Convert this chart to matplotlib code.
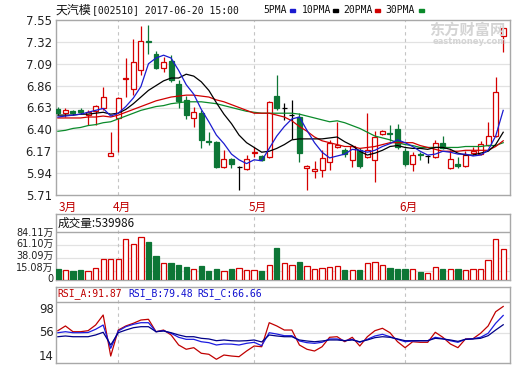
import matplotlib
matplotlib.use('Agg')
import matplotlib.pyplot as plt
import numpy as np
from matplotlib.transforms import offset_copy

plt.rcParams['font.family'] = ['DejaVu Sans', 'Noto Sans CJK SC']

# ---------------- data ----------------
opens = [6.61, 6.57, 6.59, 6.60, 6.55, 6.59, 6.62, 6.12, 6.52, 6.93,
         6.82, 7.02, 7.33, 7.19, 7.05, 7.12, 6.88, 6.71, 6.52, 6.57,
         6.28, 6.27, 6.00, 6.09, 6.00, 5.98, 6.15, 6.12, 6.11, 6.75,
         6.62, 6.55, 6.53, 5.99, 5.96, 5.97, 6.06, 6.21, 6.18, 6.08,
         6.18, 6.11, 6.08, 6.35, 6.36, 6.40, 6.17, 6.04, 6.14, 6.12,
         6.11, 6.26, 5.99, 6.04, 6.01, 6.15, 6.14, 6.24, 6.33, 7.38]
closes = [6.57, 6.60, 6.57, 6.58, 6.58, 6.65, 6.74, 6.15, 6.73, 6.94,
          7.11, 7.33, 7.32, 7.05, 7.11, 6.92, 6.70, 6.55, 6.58, 6.29,
          6.27, 6.00, 6.09, 6.04, 6.00, 6.09, 6.16, 6.08, 6.69, 6.62,
          6.62, 6.55, 6.15, 6.01, 5.98, 6.10, 6.26, 6.24, 6.14, 6.22,
          6.02, 6.18, 6.32, 6.38, 6.35, 6.21, 6.04, 6.13, 6.13, 6.12,
          6.26, 6.20, 6.09, 6.01, 6.13, 6.17, 6.25, 6.33, 6.79, 7.47]
highs = [6.64, 6.62, 6.60, 6.63, 6.60, 6.66, 6.85, 6.37, 6.74, 7.15,
         7.35, 7.49, 7.50, 7.22, 7.16, 7.18, 6.92, 6.75, 6.64, 6.60,
         6.37, 6.28, 6.18, 6.10, 6.02, 6.13, 6.21, 6.13, 6.70, 6.97,
         6.68, 6.71, 6.57, 6.03, 6.07, 6.18, 6.29, 6.48, 6.20, 6.24,
         6.20, 6.57, 6.38, 6.39, 6.45, 6.46, 6.20, 6.16, 6.16, 6.13,
         6.29, 6.33, 6.18, 6.11, 6.17, 6.21, 6.28, 6.48, 6.95, 7.47]
lows = [6.55, 6.53, 6.55, 6.56, 6.45, 6.45, 6.60, 6.12, 6.16, 6.74,
        6.76, 6.97, 7.19, 7.03, 7.00, 6.90, 6.63, 6.51, 6.43, 6.20,
        6.24, 5.99, 5.99, 5.99, 5.76, 5.97, 6.11, 6.07, 6.10, 6.60,
        6.50, 6.30, 6.06, 5.76, 5.89, 5.90, 5.97, 6.20, 6.11, 6.00,
        5.99, 6.10, 5.85, 6.34, 6.28, 6.19, 6.01, 5.96, 6.08, 6.05,
        6.10, 6.19, 5.98, 5.99, 6.00, 6.13, 6.13, 6.22, 6.32, 7.21]

ma5 = [6.53, 6.54, 6.55, 6.56, 6.58, 6.60, 6.62, 6.54, 6.57, 6.64,
       6.73, 6.85, 7.09, 7.15, 7.18, 7.15, 7.02, 6.87, 6.77, 6.61,
       6.48, 6.34, 6.25, 6.14, 6.08, 6.04, 6.08, 6.07, 6.20, 6.33,
       6.43, 6.51, 6.53, 6.39, 6.26, 6.16, 6.10, 6.12, 6.14, 6.19,
       6.18, 6.16, 6.18, 6.22, 6.25, 6.29, 6.26, 6.22, 6.17, 6.13,
       6.14, 6.17, 6.16, 6.14, 6.14, 6.12, 6.13, 6.18, 6.33, 6.60]
ma10 = [6.55, 6.55, 6.55, 6.56, 6.56, 6.57, 6.58, 6.56, 6.57, 6.61,
        6.67, 6.74, 6.81, 6.86, 6.91, 6.94, 6.94, 6.98, 6.96, 6.90,
        6.81, 6.68, 6.56, 6.46, 6.34, 6.26, 6.21, 6.16, 6.17, 6.20,
        6.24, 6.29, 6.30, 6.30, 6.30, 6.30, 6.31, 6.32, 6.27, 6.23,
        6.17, 6.13, 6.15, 6.18, 6.22, 6.23, 6.21, 6.20, 6.20, 6.19,
        6.21, 6.21, 6.19, 6.15, 6.13, 6.13, 6.15, 6.17, 6.24, 6.37]
ma20 = [6.52, 6.52, 6.52, 6.52, 6.53, 6.53, 6.54, 6.53, 6.55, 6.58,
        6.61, 6.64, 6.67, 6.70, 6.72, 6.74, 6.75, 6.76, 6.76, 6.75,
        6.74, 6.71, 6.69, 6.66, 6.63, 6.60, 6.57, 6.57, 6.57, 6.55,
        6.53, 6.49, 6.43, 6.38, 6.32, 6.28, 6.26, 6.24, 6.22, 6.22,
        6.20, 6.21, 6.22, 6.24, 6.26, 6.26, 6.26, 6.26, 6.23, 6.21,
        6.19, 6.17, 6.17, 6.17, 6.18, 6.18, 6.18, 6.18, 6.22, 6.28]
ma30 = [6.38, 6.39, 6.41, 6.42, 6.44, 6.45, 6.47, 6.48, 6.51, 6.54,
        6.57, 6.60, 6.62, 6.64, 6.65, 6.67, 6.68, 6.69, 6.69, 6.69,
        6.68, 6.67, 6.65, 6.63, 6.61, 6.59, 6.58, 6.57, 6.57, 6.57,
        6.57, 6.57, 6.56, 6.54, 6.52, 6.50, 6.48, 6.49, 6.47, 6.44,
        6.41, 6.37, 6.33, 6.31, 6.29, 6.26, 6.24, 6.23, 6.21, 6.21,
        6.21, 6.21, 6.21, 6.21, 6.22, 6.22, 6.22, 6.23, 6.23, 6.26]

volumes = [18.7, 17.5, 16.4, 17.5, 15.8, 20.4, 36.2, 36.2, 36.2, 71.3,
           63.1, 74.8, 66.0, 42.1, 30.4, 30.4, 26.3, 22.2, 19.3, 24.5,
           15.8, 18.7, 15.8, 18.7, 20.4, 16.9, 16.9, 15.8, 26.3, 56.6,
           30.4, 26.3, 32.1, 24.5, 18.7, 20.4, 23.4, 24.5, 17.5, 17.5,
           17.5, 30.4, 32.1, 26.3, 20.4, 19.3, 19.3, 18.7, 14.6, 12.8,
           22.2, 19.3, 19.3, 19.3, 17.5, 19.3, 19.3, 35.0, 71.2, 54.0]

rsi_a = [58.5, 65.0, 57.1, 57.1, 58.5, 66.3, 80.1, 23.6, 59.4, 65.0,
         68.7, 73.2, 74.2, 57.1, 59.4, 52.6, 38.8, 32.9, 35.1, 27.4,
         26.0, 19.1, 25.0, 23.6, 22.7, 30.5, 37.4, 36.4, 69.5, 65.0,
         59.4, 59.4, 38.8, 32.9, 30.5, 36.4, 49.4, 50.2, 43.3, 49.4,
         37.4, 50.2, 58.5, 61.8, 55.7, 43.3, 35.1, 43.3, 42.5, 42.5,
         56.3, 49.4, 40.2, 35.1, 47.1, 47.5, 54.9, 65.0, 84.6, 91.87]
rsi_b = [55.7, 57.1, 55.7, 55.7, 56.0, 60.4, 66.3, 34.2, 58.1, 64.0,
         67.3, 69.5, 69.5, 57.1, 58.5, 54.9, 49.4, 46.6, 46.6, 43.3,
         42.0, 38.8, 40.2, 40.0, 38.8, 41.1, 42.5, 37.8, 55.7, 53.9,
         51.6, 51.6, 44.3, 42.0, 41.1, 42.5, 47.1, 47.1, 44.7, 46.6,
         42.5, 46.6, 51.2, 53.5, 50.2, 46.6, 43.3, 44.3, 44.7, 44.7,
         49.4, 47.5, 44.7, 42.5, 46.6, 47.5, 49.4, 54.9, 68.7, 79.48]
rsi_c = [50.2, 51.2, 50.2, 50.2, 50.2, 52.6, 56.3, 38.8, 55.7, 59.4,
         62.6, 64.0, 64.0, 57.1, 58.1, 55.7, 52.6, 50.2, 50.2, 48.0,
         47.1, 44.7, 45.7, 44.7, 44.3, 44.7, 45.7, 43.0, 52.6, 51.2,
         50.2, 50.2, 45.7, 44.3, 43.3, 44.3, 45.7, 45.7, 44.7, 45.7,
         43.3, 45.7, 48.9, 50.2, 49.4, 47.1, 44.7, 44.7, 44.7, 44.7,
         48.0, 47.1, 45.7, 43.8, 46.6, 47.1, 48.0, 51.6, 59.4, 66.66]

price_ticks = [5.71, 5.94, 6.17, 6.40, 6.63, 6.86, 7.09, 7.32, 7.55]
vol_ticks = [0, 15.08, 38.09, 61.10, 84.11]
vol_labels = ['0', '15.08万', '38.09万', '61.10万', '84.11万']
rsi_ticks = [14, 56, 98]
month_idx = [0, 8, 26, 46]
month_labels = ['3月', '4月', '5月', '6月']
ma_names = ['5PMA', '10PMA', '20PMA', '30PMA']
title_name = '天汽模'
title_rest = '[002510] 2017-06-20 15:00'
vol_title = '成交量:539986'
rsi_names = ['RSI_A', 'RSI_B', 'RSI_C']

# ---------------- style ----------------
RED = '#d50000'
GREEN = '#0d7636'
MA_COLORS = ['#1b1bd0', '#000000', '#d00000', '#0a8a2a']
RSI_COLORS = ['#c00000', '#1c1ce0', '#000088']
GRID = '#e2e2e2'
FRAME = '#a8a8a8'
VLINE = '#c4c4c4'

W, H = 520, 365
fig = plt.figure(figsize=(W / 100, H / 100), dpi=100)
fig.patch.set_facecolor('white')


def rect(l, t, r, b):
    return [l / W, 1 - b / H, (r - l) / W, (b - t) / H]


def ftext(px, py, s, **kw):
    return fig.text(px / W, 1 - py / H, s, **kw)


ax = fig.add_axes(rect(56, 20, 510, 195))
axv = fig.add_axes(rect(56, 214, 510, 280))
axr = fig.add_axes(rect(56, 287, 510, 363))

x = np.arange(len(closes))
o = np.array(opens); c = np.array(closes)
hi = np.array(highs); lo = np.array(lows)
up = c > o
dn = c < o
flat = c == o
ccol = np.where(up, RED, np.where(dn, GREEN, 'black'))

for a in (ax, axv, axr):
    a.set_xlim(-0.25, 59.9)
    for s in a.spines.values():
        s.set_color(FRAME)
        s.set_linewidth(1.0)
    a.tick_params(length=0)
    a.set_xticks([])
    for mi in month_idx[1:]:
        a.axvline(mi, color=VLINE, lw=0.8, ls=(0, (3, 3)), zorder=0.5)

# ---- price panel ----
ax.set_ylim(5.71, 7.55)
ax.set_yticks(price_ticks)
ax.set_yticklabels(['%.2f' % t for t in price_ticks], fontsize=8.4, color='#222222')
ax.tick_params(axis='y', pad=3)
for t in price_ticks[1:-1]:
    ax.axhline(t, color=GRID, lw=0.9, zorder=0.4)

ax.vlines(x, lo, hi, colors=ccol, lw=0.9, zorder=2)
bw = 0.66
ax.bar(x[up], (c - o)[up], bottom=o[up], width=bw, facecolor='white',
       edgecolor=RED, lw=0.9, zorder=3)
ax.bar(x[dn], (o - c)[dn], bottom=c[dn], width=bw, facecolor=GREEN,
       edgecolor=GREEN, lw=0.9, zorder=3)
ax.hlines(c[flat], x[flat] - bw / 2, x[flat] + bw / 2, colors='black', lw=0.9, zorder=3)

for ser, col in zip([ma30, ma20, ma10, ma5], MA_COLORS[::-1]):
    ax.plot(x, ser, color=col, lw=0.9, zorder=4)

# month labels
for mi, lab, off in zip(month_idx, month_labels, [1.35, 0.45, 0.45, 0.4]):
    ax.text(mi + off, 5.71, lab, transform=offset_copy(ax.transData, fig=fig, y=-12, units='dots'),
            ha='center', va='center', fontsize=8.5, color='#c00000',
            family=['Noto Sans CJK SC', 'DejaVu Sans'])

# watermark
ftext(467, 30, '东方财富网', fontsize=11, color='#d4d4d4', ha='center', va='center',
      family=['Noto Sans CJK SC'], weight='bold')
ftext(470, 41, 'eastmoney.com', fontsize=6, color='#d4d4d4', ha='center', va='center', weight='bold')

# header
ftext(56, 10, title_name, fontsize=8.6, va='center', ha='left', color='#111111',
      family=['Noto Sans CJK SC'])
ftext(92, 10, title_rest, fontsize=7.0, va='center', ha='left', color='#111111',
      family=['DejaVu Sans Mono'])
leg_x = [263, 302, 343, 385]
sq_x = [290, 333, 375, 419]
for name, lx, sx, col in zip(ma_names, leg_x, sq_x, MA_COLORS):
    ftext(lx, 10, name, fontsize=7.0, va='center', ha='left', color='#111111',
          family=['DejaVu Sans Mono'])
    fig.patches.append(plt.Rectangle((sx / W, 1 - 12 / H), 5 / W, 3 / H,
                                     transform=fig.transFigure, color=col, figure=fig))

# ---- volume panel ----
vtop = 84.11 * 66 / 48
axv.set_ylim(0, vtop)
axv.set_yticks([])
for t in vol_ticks[1:-1]:
    axv.axhline(t, color=GRID, lw=0.9, zorder=0.4)
axv.axhline(vol_ticks[-1], color=FRAME, lw=1.0, zorder=1)
vol = np.array(volumes)
vup = c >= o
axv.bar(x[vup], vol[vup], width=0.7, facecolor='white', edgecolor=RED, lw=0.9, zorder=3)
axv.bar(x[~vup], vol[~vup], width=0.7, facecolor=GREEN, edgecolor=GREEN, lw=0.9, zorder=3)
for t, lab, dy in zip(vol_ticks, vol_labels, [1, 3.4, 2.3, 1, -0.5]):
    axv.text(-0.005, t, lab, transform=offset_copy(axv.get_yaxis_transform(), fig=fig, y=dy, units='dots'),
             ha='right', va='center', fontsize=7.0, color='#222222',
             family=['DejaVu Sans', 'Noto Sans CJK SC'])
ftext(58, 223, vol_title, fontsize=8.4, va='center', ha='left', color='#111111',
      family=['Noto Sans CJK SC', 'DejaVu Sans'])

# ---- RSI panel ----
axr.set_ylim(14, 98 + 15 / 0.726)
axr.set_yticks([])
axr.axhline(56, color=GRID, lw=0.9, zorder=0.4)
axr.axhline(98, color=FRAME, lw=1.0, zorder=1)
for ser, col in zip([rsi_a, rsi_b, rsi_c], RSI_COLORS):
    axr.plot(x, ser, color=col, lw=0.9, zorder=3)
for t, dy in zip(rsi_ticks, [7, 0, -7]):
    axr.text(-0.005, t, str(t), transform=offset_copy(axr.get_yaxis_transform(), fig=fig, y=dy, units='dots'),
             ha='right', va='center', fontsize=8.4, color='#222222')
rsi_vals = [rsi_a[-1], rsi_b[-1], rsi_c[-1]]
for name, v, px, col in zip(rsi_names, rsi_vals, [57, 128, 197], ['#c00000', '#1010d0', '#1010d0']):
    ftext(px, 294, '%s:%.2f' % (name, v), fontsize=7.0, va='center', ha='left', color=col,
          family=['DejaVu Sans Mono'])

fig.savefig('out.png', dpi=100, facecolor='white')
